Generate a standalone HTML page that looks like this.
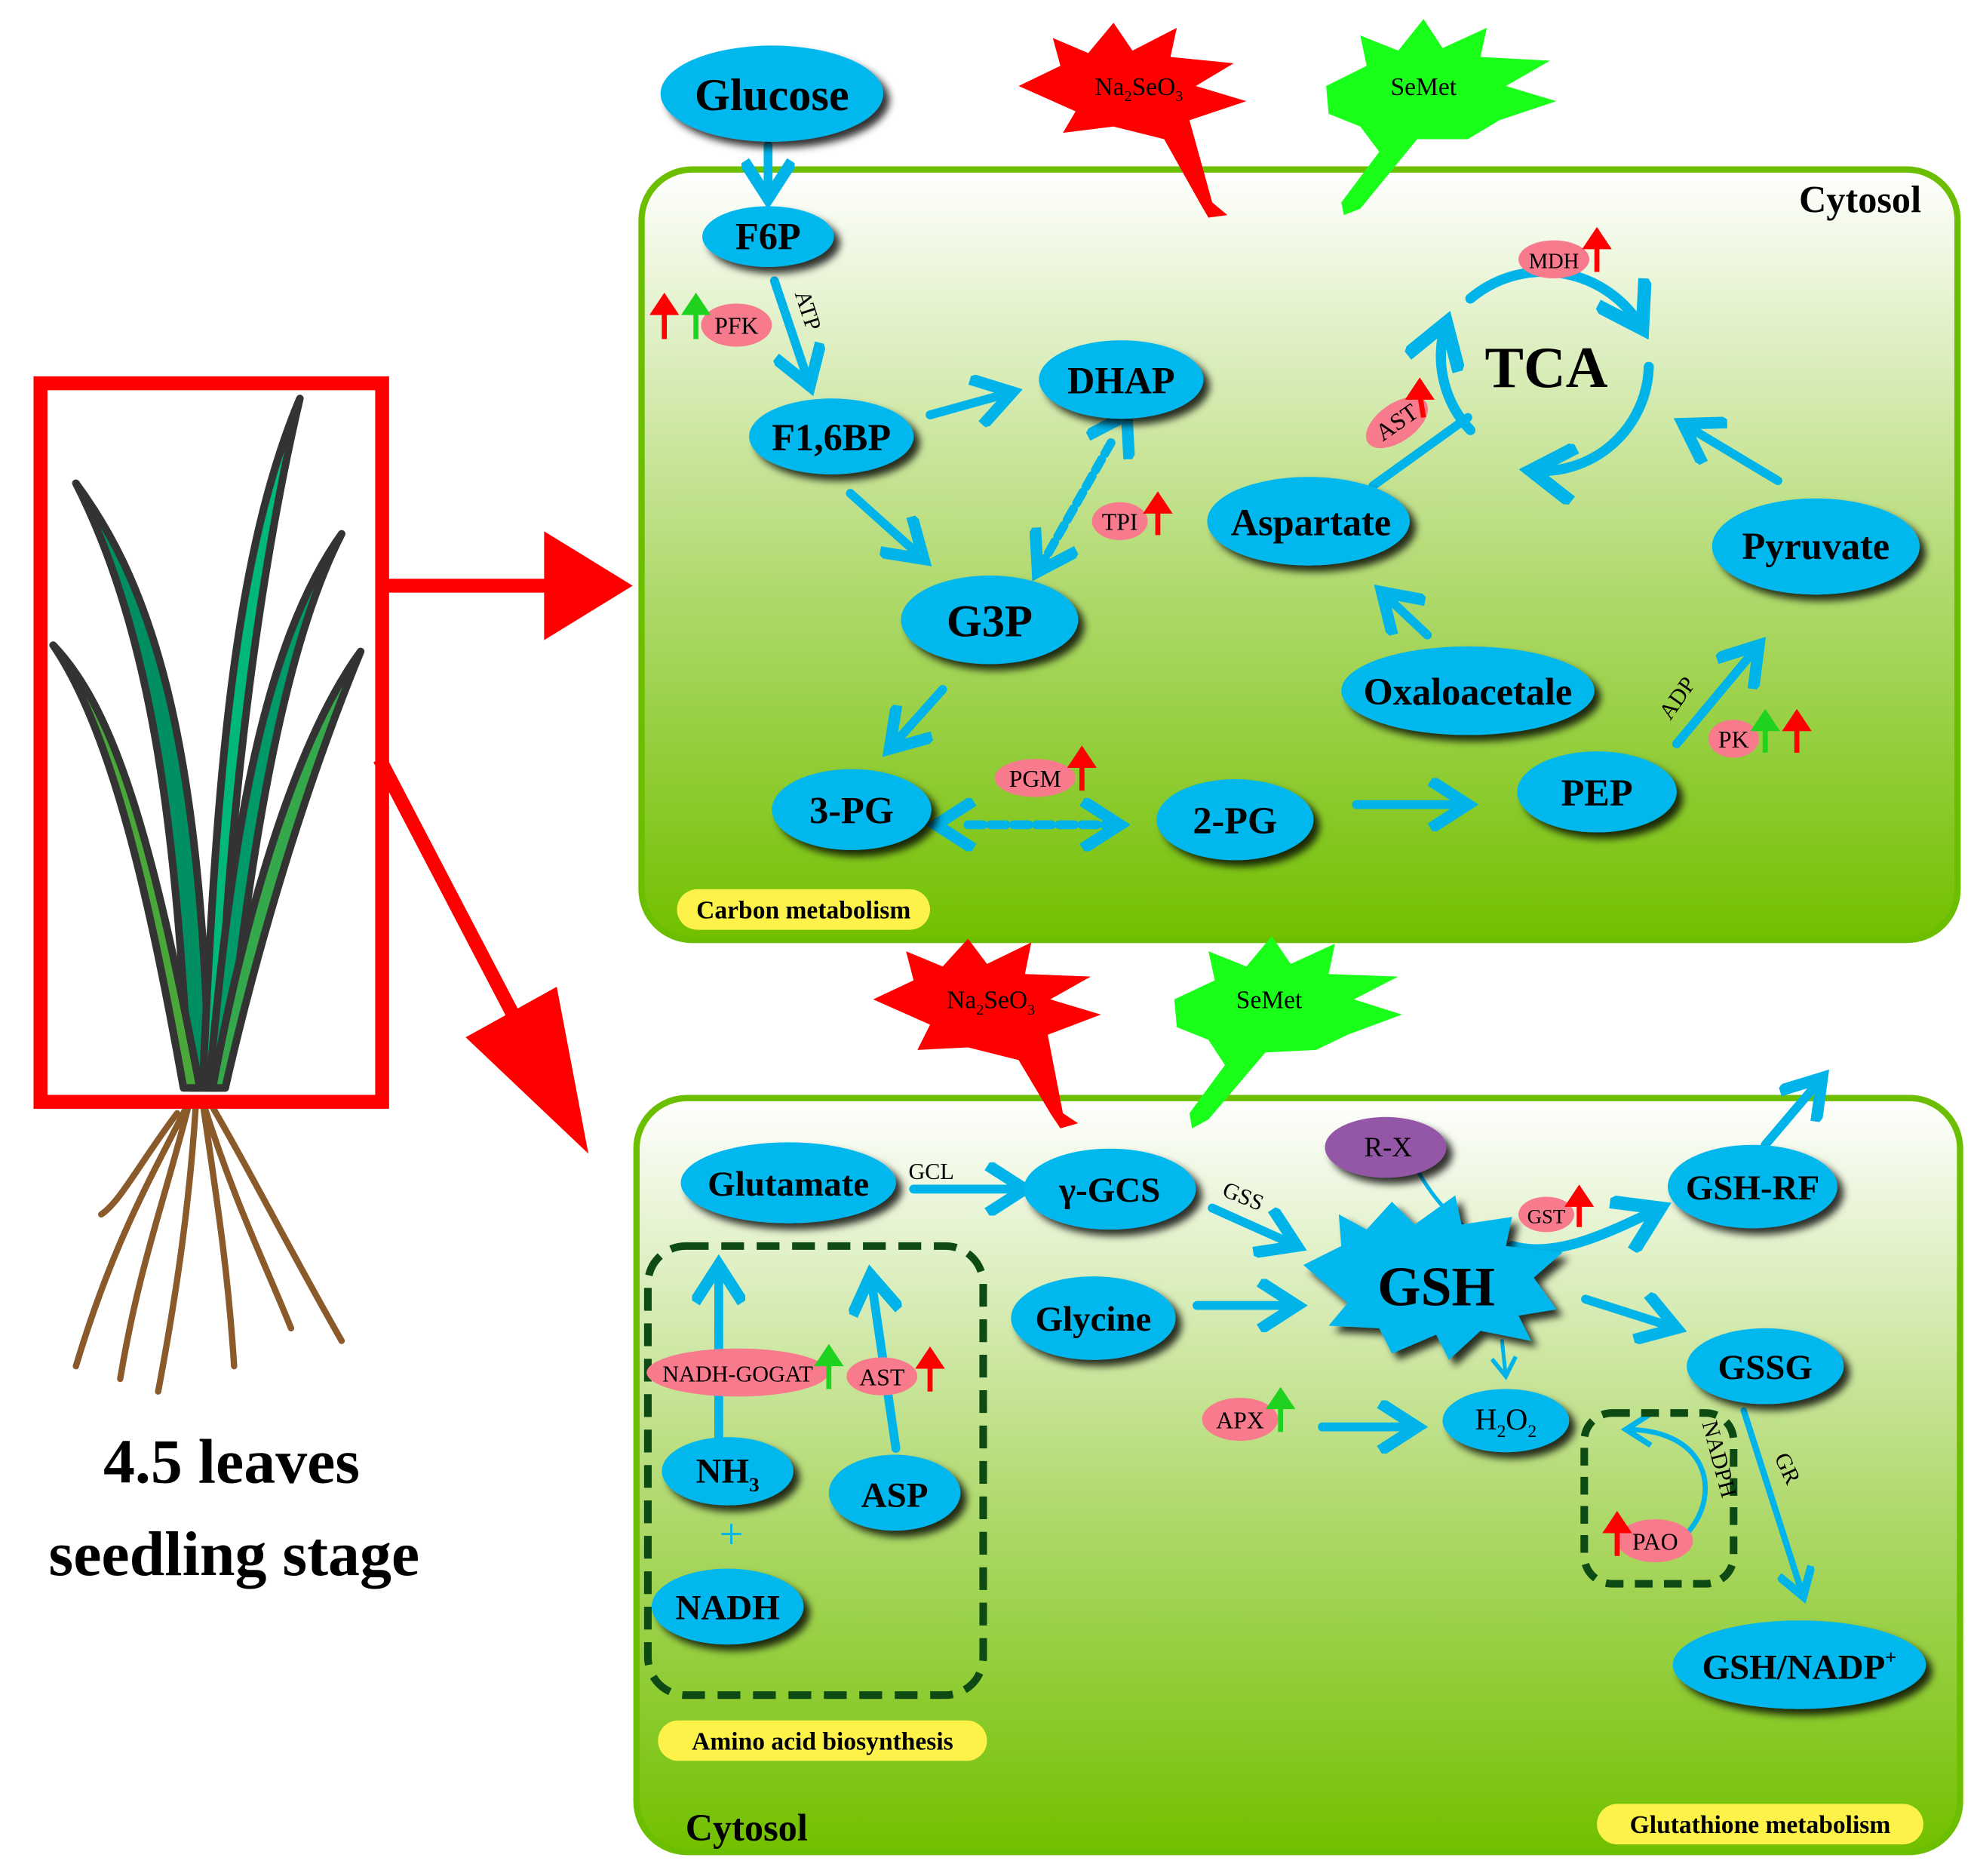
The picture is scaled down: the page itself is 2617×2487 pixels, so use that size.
<!DOCTYPE html>
<html><head><meta charset="utf-8"><style>
html,body{margin:0;padding:0;background:#fff}
svg{display:block}
text{font-family:"Liberation Serif",serif}
</style></head><body>
<svg width="2617" height="2487" viewBox="0 0 1560 1483" preserveAspectRatio="none" xmlns="http://www.w3.org/2000/svg">
<defs>
<linearGradient id="bg" x1="0" y1="0" x2="0" y2="1">
<stop offset="0" stop-color="#ffffff"/><stop offset="0.5" stop-color="#b6dc78"/><stop offset="1" stop-color="#72c000"/>
</linearGradient>
<filter id="sh" x="-30%" y="-30%" width="160%" height="160%"><feDropShadow dx="5" dy="5" stdDeviation="3" flood-color="#000" flood-opacity="0.8"/></filter>
<marker id="ch" viewBox="0 0 10 10" refX="8" refY="5" markerWidth="6" markerHeight="6" orient="auto" markerUnits="strokeWidth">
<polyline points="1,0.5 8,5 1,9.5" fill="none" stroke="#00b4ea" stroke-width="2.2"/></marker>
<marker id="chs" viewBox="0 0 10 10" refX="8" refY="5" markerWidth="7" markerHeight="7" orient="auto" markerUnits="strokeWidth">
<polyline points="1,0.5 8,5 1,9.5" fill="none" stroke="#00b4ea" stroke-width="1.6"/></marker>
<marker id="chb" viewBox="0 0 10 10" refX="2" refY="5" markerWidth="6" markerHeight="6" orient="auto-start-reverse" markerUnits="strokeWidth">
<polyline points="1,0.5 8,5 1,9.5" fill="none" stroke="#00b4ea" stroke-width="2.2"/></marker>
</defs>

<rect x="507" y="134" width="1040" height="609" rx="40" fill="url(#bg)" stroke="#6cbf00" stroke-width="5"/>
<rect x="503" y="868" width="1046" height="596" rx="40" fill="url(#bg)" stroke="#6cbf00" stroke-width="5"/>

<!-- plant -->
<g stroke="#333" stroke-width="6" stroke-linejoin="round">
<path d="M150,860 C140,700 130,520 60,382 C110,450 160,560 165,860Z" fill="#008f62"/>
<path d="M160,860 C170,650 180,450 237,315 C210,430 180,620 172,860Z" fill="#00b877"/>
<path d="M165,860 C180,700 200,520 270,422 C230,500 200,640 178,860Z" fill="#009a6a"/>
<path d="M145,860 C120,720 90,580 42,510 C90,560 120,660 158,860Z" fill="#4aa83a"/>
<path d="M168,860 C190,740 230,590 285,515 C250,600 210,720 178,860Z" fill="#36a84c"/>
</g>
<g stroke="#8a5a2b" stroke-width="5" fill="none" stroke-linecap="round">
<path d="M150,870 C120,930 90,980 60,1080"/>
<path d="M150,870 C130,950 110,1000 95,1090"/>
<path d="M155,870 C150,950 140,1020 125,1100"/>
<path d="M160,870 C170,940 180,1000 185,1080"/>
<path d="M165,870 C200,930 230,990 270,1060"/>
<path d="M160,870 C185,950 210,1000 230,1050"/>
<path d="M140,880 C110,920 95,950 80,960"/>
</g>
<rect x="32" y="303" width="270" height="568" fill="none" stroke="#ff0000" stroke-width="11"/>
<line x1="302" y1="463" x2="440" y2="463" stroke="#f00" stroke-width="11"/>
<polygon points="430,420 500,463 430,506" fill="#f00"/>
<line x1="300" y1="600" x2="420" y2="830" stroke="#f00" stroke-width="11"/>
<polygon points="368,820 440,780 465,912" fill="#f00"/>
<text x="183" y="1172" font-size="50" font-weight="bold" text-anchor="middle">4.5 leaves</text>
<text x="185" y="1245" font-size="50" font-weight="bold" text-anchor="middle">seedling stage</text>

<!-- bursts -->
<g>
<polygon points="805,68 838,52 832,30 860,42 880,18 895,40 930,22 925,45 975,50 945,68 985,80 940,95 958,160 970,170 955,172 948,160 920,110 880,100 840,105 850,88" fill="#f00"/>
<text x="900" y="75" font-size="20" text-anchor="middle">Na<tspan font-size="12" dy="5">2</tspan><tspan dy="-5">SeO</tspan><tspan font-size="12" dy="5">3</tspan></text>
<polygon points="1048,68 1080,52 1075,28 1105,40 1125,15 1140,38 1175,22 1170,45 1225,48 1190,68 1230,80 1185,95 1160,110 1120,110 1075,165 1062,170 1060,160 1090,120 1075,100 1050,90" fill="#1aff1a"/>
<text x="1125" y="75" font-size="20" text-anchor="middle">SeMet</text>
<polygon points="690,790 722,775 716,752 745,764 765,742 780,762 815,745 810,770 862,772 830,790 870,802 828,818 840,880 852,888 838,892 830,880 805,838 765,828 725,830 735,810" fill="#f00"/>
<text x="783" y="797" font-size="20" text-anchor="middle">Na<tspan font-size="12" dy="5">2</tspan><tspan dy="-5">SeO</tspan><tspan font-size="12" dy="5">3</tspan></text>
<polygon points="928,790 960,775 955,752 985,764 1005,740 1020,762 1055,746 1050,770 1105,772 1070,790 1108,802 1065,818 1040,830 1000,832 955,885 942,892 940,880 968,842 955,822 930,812" fill="#1aff1a"/>
<text x="1003" y="797" font-size="20" text-anchor="middle">SeMet</text>
</g>

<g stroke="#00b4ea" stroke-width="7" fill="none" stroke-linecap="round">
<line x1="607" y1="115" x2="607" y2="157" marker-end="url(#ch)"/>
<line x1="612" y1="222" x2="640" y2="305" marker-end="url(#ch)"/>
<line x1="735" y1="328" x2="800" y2="310" marker-end="url(#ch)"/>
<line x1="672" y1="390" x2="730" y2="442" marker-end="url(#ch)"/>
<line x1="878" y1="350" x2="820" y2="452" stroke-dasharray="10,5" marker-end="url(#ch)" marker-start="url(#chb)"/>
<line x1="745" y1="545" x2="703" y2="592" marker-end="url(#ch)"/>
<line x1="765" y1="652" x2="885" y2="652" stroke-dasharray="12,6" marker-end="url(#ch)" marker-start="url(#chb)"/>
<line x1="1072" y1="636" x2="1160" y2="636" marker-end="url(#ch)"/>
<line x1="1325" y1="588" x2="1390" y2="510" marker-end="url(#ch)"/>
<line x1="1128" y1="502" x2="1092" y2="468" marker-end="url(#ch)"/>
<line x1="1405" y1="380" x2="1330" y2="335" marker-end="url(#ch)"/>
<line x1="1085" y1="384" x2="1160" y2="330"/>
<path d="M1162,236 A90,90 0 0 1 1298,260" stroke-width="8" marker-end="url(#ch)"/>
<path d="M1303,290 A85,85 0 0 1 1210,372" stroke-width="8" marker-end="url(#ch)"/>
<path d="M1162,340 A85,85 0 0 1 1143,255" stroke-width="8" marker-end="url(#ch)"/>
</g>
<g stroke="#00b4ea" stroke-width="7" fill="none" stroke-linecap="round">
<line x1="722" y1="940" x2="810" y2="940" marker-end="url(#ch)"/>
<line x1="958" y1="955" x2="1025" y2="985" marker-end="url(#ch)"/>
<line x1="946" y1="1032" x2="1025" y2="1032" marker-end="url(#ch)"/>
<line x1="1253" y1="1027" x2="1325" y2="1050" marker-end="url(#ch)"/>
<line x1="1045" y1="1128" x2="1120" y2="1128" marker-end="url(#ch)"/>
<line x1="1395" y1="905" x2="1440" y2="852" marker-end="url(#ch)"/>
<line x1="568" y1="1140" x2="568" y2="1000" marker-end="url(#ch)"/>
<line x1="708" y1="1145" x2="688" y2="1008" marker-end="url(#ch)"/>
<line x1="1378" y1="1115" x2="1425" y2="1262" stroke-width="5" marker-end="url(#ch)"/>
<path d="M1195,985 C1230,995 1270,975 1312,955" stroke-width="8" marker-end="url(#ch)"/>
<path d="M1120,925 C1140,960 1165,982 1200,988" stroke-width="3"/>
<line x1="1187" y1="1060" x2="1190" y2="1088" stroke-width="3" marker-end="url(#chs)"/>
<path d="M1335,1210 C1360,1180 1350,1130 1285,1130" stroke-width="4" marker-end="url(#chs)"/>
</g>
<text x="578" y="1224" font-size="34" fill="#00b4ea" text-anchor="middle">+</text>

<rect x="512" y="985" width="265" height="355" rx="30" fill="none" stroke="#0d4a14" stroke-width="6" stroke-dasharray="18,10"/>
<rect x="1252" y="1117" width="118" height="135" rx="22" fill="none" stroke="#0d4a14" stroke-width="6" stroke-dasharray="14,9"/>

<polygon points="1030,1000 1060,985 1058,960 1080,972 1100,950 1118,968 1150,945 1155,968 1195,962 1190,985 1235,990 1212,1010 1230,1035 1200,1040 1210,1060 1170,1052 1145,1075 1135,1055 1100,1070 1090,1050 1050,1048 1065,1030" fill="#00b8ee" filter="url(#sh)"/>
<text x="1135" y="1032" font-size="44" font-weight="bold" text-anchor="middle">GSH</text>

<g fill="#00b8ee" filter="url(#sh)">
<ellipse cx="610" cy="74" rx="88" ry="38"/>
<ellipse cx="607" cy="187" rx="52" ry="24"/>
<ellipse cx="657" cy="345" rx="65" ry="30"/>
<ellipse cx="886" cy="300" rx="65" ry="31"/>
<ellipse cx="782" cy="490" rx="70" ry="35"/>
<ellipse cx="673" cy="640" rx="63" ry="32"/>
<ellipse cx="976" cy="648" rx="62" ry="32"/>
<ellipse cx="1262" cy="626" rx="63" ry="32"/>
<ellipse cx="1160" cy="546" rx="100" ry="35"/>
<ellipse cx="1034" cy="412" rx="80" ry="35"/>
<ellipse cx="1435" cy="432" rx="82" ry="38"/>
<ellipse cx="623" cy="935" rx="85" ry="32"/>
<ellipse cx="877" cy="940" rx="68" ry="32"/>
<ellipse cx="1385" cy="938" rx="67" ry="33"/>
<ellipse cx="864" cy="1042" rx="65" ry="33"/>
<ellipse cx="1395" cy="1080" rx="62" ry="30"/>
<ellipse cx="1190" cy="1123" rx="50" ry="25"/>
<ellipse cx="575" cy="1163" rx="52" ry="27"/>
<ellipse cx="707" cy="1180" rx="52" ry="30"/>
<ellipse cx="575" cy="1270" rx="60" ry="30"/>
<ellipse cx="1422" cy="1316" rx="100" ry="35"/>
</g>
<ellipse cx="1095" cy="907" rx="48" ry="24" fill="#9457a6" filter="url(#sh)"/>

<g font-size="30" text-anchor="middle" font-weight="bold">
<text x="610" y="87" font-size="36">Glucose</text>
<text x="607" y="197">F6P</text>
<text x="657" y="356">F1,6BP</text>
<text x="886" y="311">DHAP</text>
<text x="782" y="503" font-size="36">G3P</text>
<text x="673" y="651">3-PG</text>
<text x="976" y="659">2-PG</text>
<text x="1262" y="637">PEP</text>
<text x="1160" y="557">Oxaloacetale</text>
<text x="1036" y="423">Aspartate</text>
<text x="1435" y="442">Pyruvate</text>
<text x="1222" y="306" font-size="46">TCA</text>
<text x="623" y="945" font-size="28">Glutamate</text>
<text x="877" y="950" font-size="28">γ-GCS</text>
<text x="1385" y="948" font-size="28">GSH-RF</text>
<text x="864" y="1052" font-size="28">Glycine</text>
<text x="1395" y="1090" font-size="28">GSSG</text>
<text x="1190" y="1130" font-size="24" font-weight="normal">H<tspan font-size="14" dy="6">2</tspan><tspan dy="-6">O</tspan><tspan font-size="14" dy="6">2</tspan></text>
<text x="575" y="1172" font-size="28">NH<tspan font-size="16" dy="7">3</tspan></text>
<text x="707" y="1191" font-size="28">ASP</text>
<text x="575" y="1280" font-size="28">NADH</text>
<text x="1422" y="1327" font-size="28">GSH/NADP<tspan font-size="16" dy="-12">+</tspan></text>
<text x="1097" y="914" font-size="22" font-weight="normal">R-X</text>
</g>

<g font-size="18">
<text x="628" y="232" transform="rotate(72 628 232)">ATP</text>
<text x="1320" y="570" transform="rotate(-55 1320 570)">ADP</text>
<text x="718" y="932">GCL</text>
<text x="965" y="945" transform="rotate(22 965 945)">GSS</text>
<text x="1345" y="1125" transform="rotate(75 1345 1125)">NADPH</text>
<text x="1402" y="1152" transform="rotate(65 1402 1152)">GR</text>
</g>

<g fill="#f87a8d">
<ellipse cx="582" cy="257" rx="28" ry="17"/>
<ellipse cx="1228" cy="205" rx="28" ry="15"/>
<ellipse cx="1104" cy="334" rx="28" ry="15" transform="rotate(-35 1104 334)"/>
<ellipse cx="885" cy="412" rx="22" ry="15"/>
<ellipse cx="818" cy="615" rx="32" ry="15"/>
<ellipse cx="1370" cy="584" rx="20" ry="15"/>
<ellipse cx="1222" cy="960" rx="22" ry="14"/>
<ellipse cx="583" cy="1085" rx="72" ry="19"/>
<ellipse cx="697" cy="1088" rx="28" ry="15"/>
<ellipse cx="980" cy="1122" rx="30" ry="17"/>
<ellipse cx="1308" cy="1218" rx="30" ry="17"/>
</g>
<g font-size="19" text-anchor="middle">
<text x="582" y="264">PFK</text>
<text x="1228" y="212" font-size="17">MDH</text>
<text x="1104" y="340" transform="rotate(-35 1104 334)">AST</text>
<text x="885" y="419">TPI</text>
<text x="818" y="622">PGM</text>
<text x="1370" y="591">PK</text>
<text x="1222" y="967" font-size="16">GST</text>
<text x="583" y="1092" font-size="18">NADH-GOGAT</text>
<text x="697" y="1095">AST</text>
<text x="980" y="1129">APX</text>
<text x="1308" y="1225">PAO</text>
</g>

<g stroke-width="4">
<g stroke="#f00" fill="#f00">
<line x1="525" y1="268" x2="525" y2="245"/><polygon points="517,247 525,235 533,247"/>
<line x1="1262" y1="215" x2="1262" y2="193"/><polygon points="1254,195 1262,183 1270,195"/>
<line x1="1125" y1="330" x2="1122" y2="312"/><polygon points="1114,314 1122,302 1130,314"/>
<line x1="915" y1="423" x2="915" y2="402"/><polygon points="907,404 915,392 923,404"/>
<line x1="855" y1="625" x2="855" y2="603"/><polygon points="847,605 855,593 863,605"/>
<line x1="1420" y1="595" x2="1420" y2="574"/><polygon points="1412,576 1420,564 1428,576"/>
<line x1="1248" y1="970" x2="1248" y2="950"/><polygon points="1240,952 1248,940 1256,952"/>
<line x1="735" y1="1100" x2="735" y2="1078"/><polygon points="727,1080 735,1068 743,1080"/>
<line x1="1278" y1="1230" x2="1278" y2="1208"/><polygon points="1270,1210 1278,1198 1286,1210"/>
</g>
<g stroke="#1fd21f" fill="#1fd21f">
<line x1="550" y1="268" x2="550" y2="245"/><polygon points="542,247 550,235 558,247"/>
<line x1="1395" y1="595" x2="1395" y2="574"/><polygon points="1387,576 1395,564 1403,576"/>
<line x1="655" y1="1098" x2="655" y2="1076"/><polygon points="647,1078 655,1066 663,1078"/>
<line x1="1012" y1="1132" x2="1012" y2="1110"/><polygon points="1004,1112 1012,1100 1020,1112"/>
</g>
</g>

<rect x="535" y="703" width="200" height="32" rx="16" fill="#fdf24a"/>
<text x="635" y="726" font-size="20" font-weight="bold" text-anchor="middle">Carbon metabolism</text>
<rect x="520" y="1360" width="260" height="32" rx="16" fill="#fdf24a"/>
<text x="650" y="1383" font-size="20" font-weight="bold" text-anchor="middle">Amino acid biosynthesis</text>
<rect x="1262" y="1426" width="258" height="32" rx="16" fill="#fdf24a"/>
<text x="1391" y="1449" font-size="20" font-weight="bold" text-anchor="middle">Glutathione metabolism</text>
<text x="1470" y="168" font-size="30" font-weight="bold" text-anchor="middle">Cytosol</text>
<text x="590" y="1455" font-size="30" font-weight="bold" text-anchor="middle">Cytosol</text>
</svg>
</body></html>
